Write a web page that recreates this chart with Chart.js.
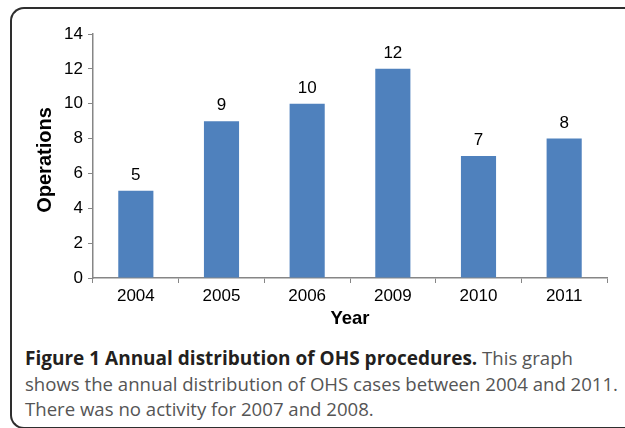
<!DOCTYPE html>
<html>
<head>
<meta charset="utf-8">
<script src="https://cdn.jsdelivr.net/npm/chart.js@4"></script>
<style>
  body { margin: 0; background: #fff; width: 625px; height: 428px; overflow: hidden; position: relative; }
  #frame {
    position: absolute; left: 10px; top: 7px; width: 640px; height: 418px;
    border: 2px solid #2e2e2e; border-right: none; border-radius: 14px 0 0 14px;
  }
  #wrap { position: absolute; left: 0; top: 0; width: 625px; height: 334px; }
  #caption {
    position: absolute; left: 25px; top: 345px; width: 600px; white-space: nowrap;
    font-family: "Open Sans", sans-serif; font-size: 18.6px; line-height: 25px; color: #555;
  }
  #caption b { color: #231f20; font-size: 19px; }
</style>
</head>
<body>
<div id="frame"></div>
<div id="wrap"><canvas id="chart"></canvas></div>
<div id="caption"><b>Figure 1 Annual distribution of OHS procedures.</b> This graph<br>shows the annual distribution of OHS cases between 2004 and 2011.<br>There was no activity for 2007 and 2008.</div>
<script>
const years = ['2004', '2005', '2006', '2009', '2010', '2011'];
const operations = [5, 9, 10, 12, 7, 8];
const yTicks = [0, 2, 4, 6, 8, 10, 12, 14];

const axisGray = '#868686';
const font = '"Liberation Sans", Arial, sans-serif';

// value labels above each bar + rotated y title
const extras = {
    id: 'extras',
    afterDatasetsDraw(chart) {
        const c = chart.ctx;
        const meta = chart.getDatasetMeta(0);
        c.save();
        c.font = '17px ' + font;
        c.fillStyle = '#000';
        c.textAlign = 'center';
        c.textBaseline = 'alphabetic';
        meta.data.forEach((bar, i) => {
            c.fillText(operations[i], bar.x, bar.y - 11);
        });
        const area = chart.chartArea;
        c.translate(45, (area.top + area.bottom) / 2 + 4);
        c.rotate(-Math.PI / 2);
        c.font = 'bold 20px ' + font;
        c.textBaseline = 'middle';
        c.fillText('Operations', 0, 0);
        c.restore();
    }
};

const ctx = document.getElementById('chart').getContext('2d');
const chart = new Chart(ctx, {
    type: 'bar',
    data: {
        labels: years,
        datasets: [{
            data: operations,
            backgroundColor: '#4f81bd',
            borderWidth: 0,
            categoryPercentage: 1,
            barPercentage: 0.41
        }]
    },
    options: {
        responsive: true,
        maintainAspectRatio: false,
        animation: false,
        layout: { padding: { top: 34, right: 18, left: 0, bottom: 0 } },
        plugins: { legend: { display: false }, tooltip: { enabled: false } },
        scales: {
            y: {
                min: 0, max: 14,
                afterBuildTicks: (s) => { s.ticks = yTicks.map(v => ({ value: v })); },
                afterFit: (s) => { s.width = 93; },
                border: { color: axisGray, width: 1.5 },
                grid: { drawOnChartArea: false, color: axisGray, tickLength: 5, lineWidth: 1 },
                ticks: { color: '#000', padding: 5, font: { family: font, size: 17 } }
            },
            x: {
                afterFit: (s) => { s.height = 334 - 278; },
                border: { color: axisGray, width: 1.5 },
                grid: { drawOnChartArea: false, color: axisGray, tickLength: 5, offset: true },
                ticks: { color: '#000', padding: 3, font: { family: font, size: 17 } },
                title: {
                    display: true, text: 'Year', color: '#000',
                    font: { family: font, size: 18.5, weight: 'bold' },
                    padding: { top: 4 }
                }
            }
        }
    },
    plugins: [extras]
});
</script>
</body>
</html>
